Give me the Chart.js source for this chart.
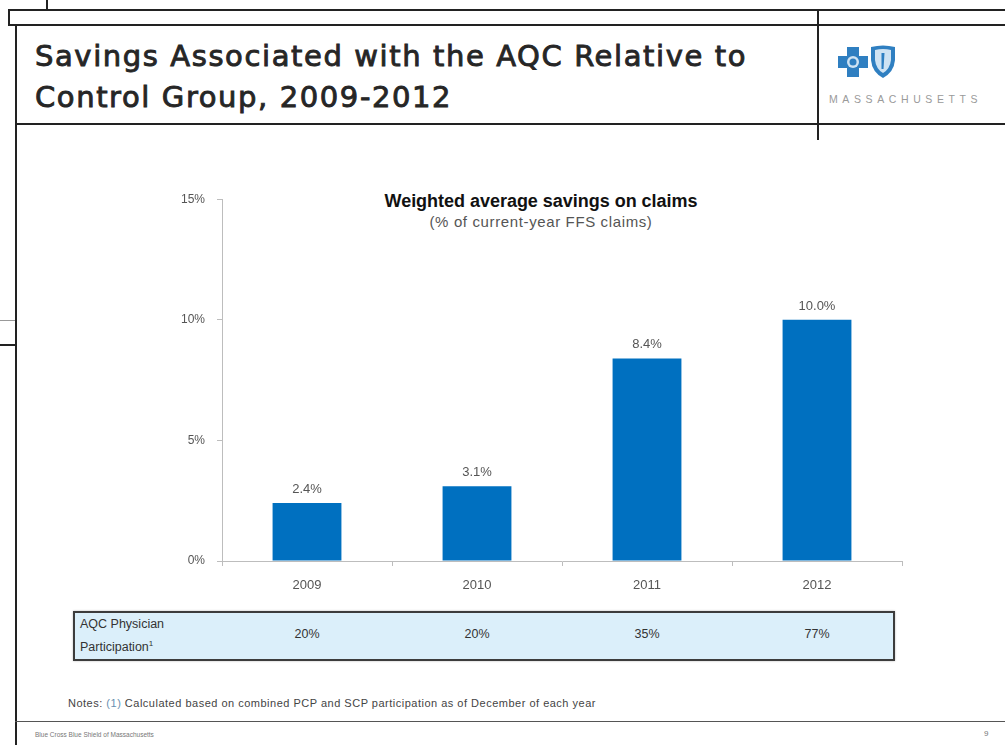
<!DOCTYPE html>
<html>
<head>
<meta charset="utf-8">
<script src="https://cdn.jsdelivr.net/npm/chart.js@4.4.0/dist/chart.umd.min.js"></script>
<style>
  html, body { margin:0; padding:0; background:#fff; }
  body { width:1005px; height:745px; position:relative; overflow:hidden; font-family:"Liberation Sans", Arial, sans-serif; }
  .abs { position:absolute; }
  .hline { position:absolute; height:0; border-top:2px solid #222; }
  .vline { position:absolute; width:0; border-left:2px solid #222; }
  #title { left:35px; top:36px; font-family:"DejaVu Sans", sans-serif; font-weight:400; font-size:29px; line-height:41px; color:#262626; white-space:nowrap; -webkit-text-stroke:0.9px #262626; }
  #ctitle { left:291px; width:500px; top:191px; text-align:center; font-family:"Liberation Sans", Arial, sans-serif; font-weight:700; font-size:18px; color:#111; white-space:nowrap; }
  #csub { left:291px; width:500px; top:213px; text-align:center; font-family:"Liberation Sans", Arial, sans-serif; font-size:15px; color:#555; white-space:nowrap; }
  #tbl { left:73px; top:611px; width:818px; height:46px; background:#dbeffa; border:2px solid #3c3c3c; box-shadow:0 0 2px #bbb; }
  #tlabel { left:80px; top:615px; font-family:"Liberation Sans", Arial, sans-serif; font-size:12.5px; line-height:19px; color:#333; }
  .tcell { position:absolute; top:627px; width:80px; text-align:center; font-family:"Liberation Sans", Arial, sans-serif; font-size:12.5px; color:#333; }
  #notes { left:68px; top:697px; font-family:"Liberation Sans", Arial, sans-serif; font-size:11px; letter-spacing:0.5px; color:#444; white-space:nowrap; }
  #foot { left:35px; top:731px; font-family:"Liberation Sans", Arial, sans-serif; font-size:6.5px; color:#777; }
  #pg { left:984px; top:729px; font-family:"Liberation Sans", Arial, sans-serif; font-size:8px; color:#777; }
  #mass { left:829px; top:93px; font-family:"Liberation Sans", Arial, sans-serif; font-size:10.5px; letter-spacing:4.6px; color:#9a9a9a; white-space:nowrap; }
  #chartwrap { left:150px; top:180px; width:782px; height:426px; }
</style>
</head>
<body>
<!-- frame lines -->
<div class="vline" style="left:46px;top:0;height:9px;"></div>
<div class="hline" style="left:8px;top:9px;width:997px;"></div>
<div class="hline" style="left:8px;top:24px;width:997px;"></div>
<div class="vline" style="left:8px;top:9px;height:16px;"></div>
<div class="vline" style="left:15px;top:24px;height:721px;"></div>
<div class="hline" style="left:15px;top:123px;width:990px;"></div>
<div class="vline" style="left:817px;top:9px;height:131px;"></div>
<div class="hline" style="left:0;top:320px;width:15px;border-top:1px solid #999;"></div>
<div class="hline" style="left:0;top:344px;width:15px;"></div>
<div class="hline" style="left:15px;top:721px;width:990px;border-top:1px solid #555;"></div>

<div id="title" class="abs"><span id="t1">Savings Associated with the AQC Relative to</span><br><span id="t2">Control Group, 2009-2012</span></div>

<!-- logo -->
<svg class="abs" style="left:838px;top:44px;" width="62" height="36" viewBox="0 0 62 36">
  <path d="M9 3 H21 V12 H30 V24 H21 V33 H9 V24 H0 V12 H9 Z" fill="#2f7fc1"/>
  <circle cx="15" cy="18" r="6" fill="#cfe3f3"/>
  <circle cx="15" cy="18" r="3.5" fill="#2f7fc1"/>
  <path d="M33 3 Q45 0 57 3 L57 16 Q56 28 45 34 Q34 28 33 16 Z" fill="#2f7fc1"/>
  <path d="M37 6 Q45 4 53 6 L53 16 Q52 25 45 29 Q38 25 37 16 Z" fill="#cfe3f3"/>
  <path d="M43.5 9 L46.5 9 L45.5 25 L43.5 25 Z" fill="#2f7fc1"/>
</svg>
<div id="mass" class="abs">MASSACHUSETTS</div>

<div id="ctitle" class="abs"><span id="ct">Weighted average savings on claims</span></div>
<div id="csub" class="abs"><span id="cs">(% of current-year FFS claims)</span></div>

<div id="chartwrap" class="abs"><canvas id="c" width="782" height="426"></canvas></div>

<div id="tbl" class="abs"></div>
<div id="tlabel" class="abs">AQC Physician<br>Participation<sup style="font-size:8px;">1</sup></div>
<div id="cells"></div>

<div id="notes" class="abs">Notes: <span style="color:#6a8fb0">(1)</span> Calculated based on combined PCP and SCP participation as of December of each year</div>
<div id="foot" class="abs">Blue Cross Blue Shield of Massachusetts</div>
<div id="pg" class="abs">9</div>

<script>
const years = ['2009', '2010', '2011', '2012'];
const savingsPct = [2.4, 3.1, 8.4, 10.0];
const participation = ['20%', '20%', '35%', '77%'];
const yMin = 0, yMax = 15, yStep = 5;

const sans = '"Liberation Sans", Arial, sans-serif';

// fit header/title text widths with letter-spacing
function fit(id, target, extraIds) {
  const el = document.getElementById(id);
  const w = el.getBoundingClientRect().width;
  const n = el.textContent.length;
  const ls = (target - w) / n;
  el.style.letterSpacing = ls + 'px';
  (extraIds || []).forEach(e => document.getElementById(e).style.letterSpacing = ls + 'px');
}
fit('t1', 712, ['t2']);
fit('ct', 313);
fit('cs', 223);

const valueLabels = {
  id: 'valueLabels',
  afterDatasetsDraw(chart) {
    const ctx = chart.ctx;
    const meta = chart.getDatasetMeta(0);
    ctx.save();
    ctx.font = '13px ' + sans;
    ctx.fillStyle = '#555';
    ctx.textAlign = 'center';
    ctx.textBaseline = 'bottom';
    meta.data.forEach((bar, i) => {
      ctx.fillText(savingsPct[i].toFixed(1) + '%', bar.x, bar.y - 7);
    });
    ctx.restore();
  }
};

const chart = new Chart(document.getElementById('c'), {
  type: 'bar',
  data: {
    labels: years,
    datasets: [{
      data: savingsPct,
      backgroundColor: '#0070c0',
      borderWidth: 0,
      barPercentage: 0.405,
      categoryPercentage: 1.0
    }]
  },
  options: {
    responsive: false,
    animation: false,
    devicePixelRatio: 1,
    layout: { padding: { left: 0, right: 30, top: 16, bottom: 0 } },
    plugins: { legend: { display: false }, tooltip: { enabled: false }, title: { display: false } },
    scales: {
      x: {
        grid: { display: true, drawOnChartArea: false, drawTicks: true, tickLength: 5, color: '#bdbdbd', offset: true },
        border: { display: true, color: '#bdbdbd', width: 1 },
        ticks: { color: '#555', font: { family: sans, size: 13 }, padding: 12 },
        afterFit(s) { s.height = 45; }
      },
      y: {
        min: yMin, max: yMax,
        grid: { display: true, drawOnChartArea: false, drawTicks: true, tickLength: 5, color: '#bdbdbd' },
        border: { display: true, color: '#bdbdbd', width: 1 },
        ticks: { stepSize: yStep, color: '#555', font: { family: sans, size: 12 }, padding: 12,
                 callback: v => v + '%' },
        afterFit(s) { s.width = 72; }
      }
    }
  },
  plugins: [valueLabels]
});

// participation row aligned to category centres from the x scale
const wrapLeft = 150;
const cells = document.getElementById('cells');
participation.forEach((p, i) => {
  const d = document.createElement('div');
  d.className = 'tcell';
  d.textContent = p;
  const cx = wrapLeft + chart.scales.x.getPixelForValue(i);
  d.style.left = (cx - 40) + 'px';
  cells.appendChild(d);
});
</script>
</body>
</html>
